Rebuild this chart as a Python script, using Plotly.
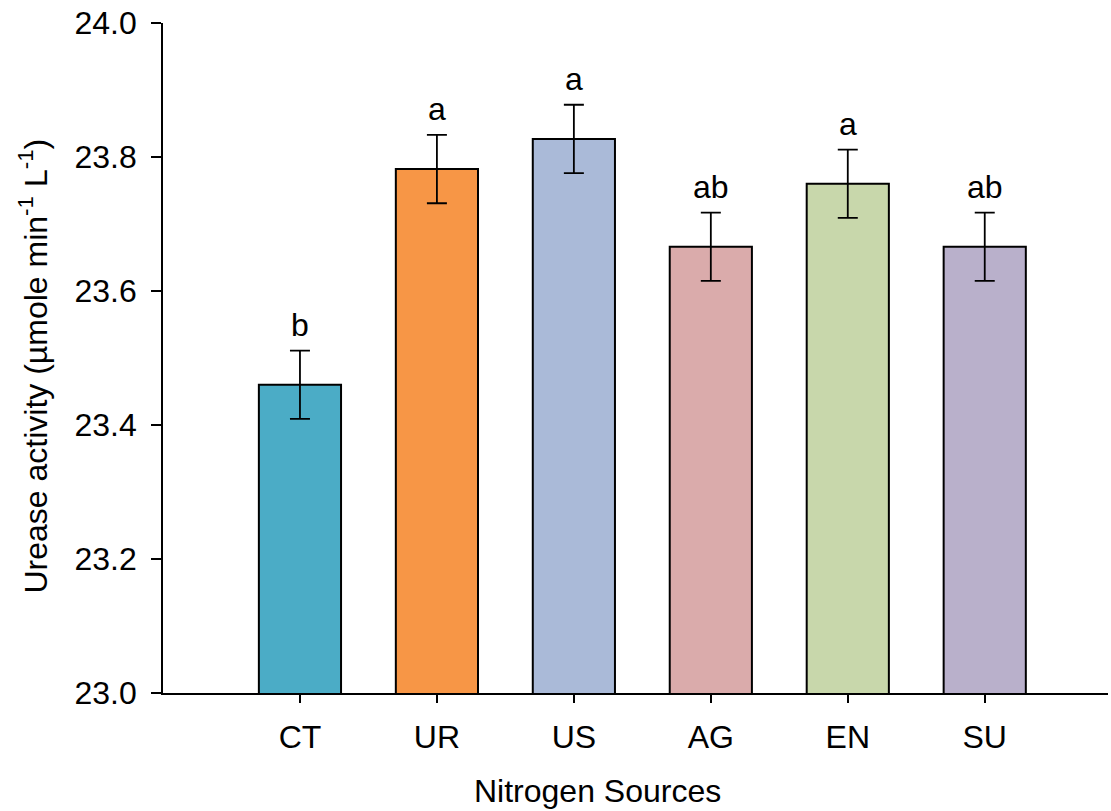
import plotly.graph_objects as go

# Urease activity by nitrogen source
sources = ["CT", "UR", "US", "AG", "EN", "SU"]
activity = [23.46, 23.782, 23.827, 23.666, 23.760, 23.666]
std_err = [0.051, 0.051, 0.051, 0.051, 0.051, 0.051]
groups = ["b", "a", "a", "ab", "a", "ab"]
colors = ["#4BACC6", "#F79646", "#AABAD8", "#DAABAB", "#C8D7AB", "#B9B0CB"]

FONT = "Liberation Sans, Arial, sans-serif"
FS = 32

fig = go.Figure()
fig.add_trace(go.Bar(
    x=sources,
    y=activity,
    width=0.6,
    marker=dict(color=colors, line=dict(color="black", width=2)),
    error_y=dict(type="data", array=std_err, visible=True,
                 color="black", thickness=1.8, width=10),
    showlegend=False,
))

# significance letters above the error bars
for s, v, e, g in zip(sources, activity, std_err, groups):
    fig.add_annotation(x=s, y=v + e, text=g, showarrow=False,
                       yanchor="bottom", yshift=6,
                       font=dict(family=FONT, size=FS, color="black"))

# axis titles
fig.add_annotation(xref="paper", yref="paper", x=0.4598, y=-0.147,
                   xanchor="center", yanchor="middle", showarrow=False,
                   text="Nitrogen Sources",
                   font=dict(family=FONT, size=FS, color="black"))
fig.add_annotation(xref="paper", yref="paper", x=-0.137, y=0.488,
                   xanchor="center", yanchor="middle", showarrow=False,
                   textangle=-90,
                   text="Urease activity (µmole min<sup>-1</sup> L<sup>-1</sup>)",
                   font=dict(family=FONT, size=FS, color="black"))

fig.update_layout(
    width=1111, height=811,
    margin=dict(l=163, r=3, t=23, b=118),
    plot_bgcolor="white", paper_bgcolor="white",
    font=dict(family=FONT, size=FS, color="black"),
    xaxis=dict(
        type="category", range=[-1, 5.9],
        showline=True, linecolor="black", linewidth=1.8,
        ticks="outside", ticklen=8, tickwidth=1.8, tickcolor="black",
        ticklabelstandoff=7,
        showgrid=False, zeroline=False,
    ),
    yaxis=dict(
        range=[23.0, 24.0], tickvals=[23.0, 23.2, 23.4, 23.6, 23.8, 24.0],
        tickformat=".1f",
        showline=True, linecolor="black", linewidth=1.8,
        ticks="outside", ticklen=10, tickwidth=1.8, tickcolor="black",
        ticklabelstandoff=8,
        showgrid=False, zeroline=False,
    ),
)

fig.write_html("out.html")
